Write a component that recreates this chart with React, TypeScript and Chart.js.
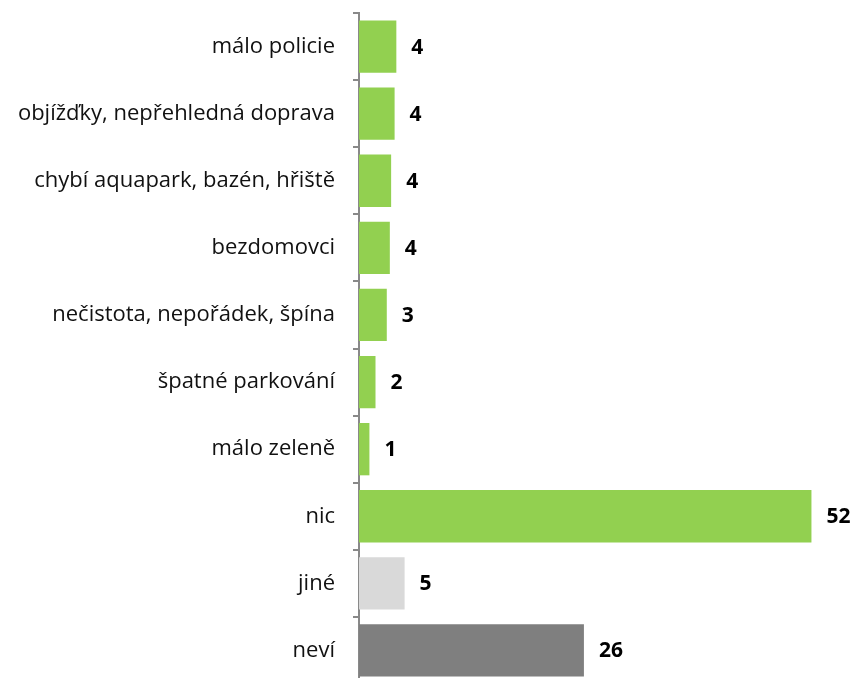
import React, { useEffect, useRef } from "react";
import { Chart, registerables } from "chart.js";

Chart.register(...registerables);

const categories = [
  "málo policie",
  "objížďky, nepřehledná doprava",
  "chybí aquapark, bazén, hřiště",
  "bezdomovci",
  "nečistota, nepořádek, špína",
  "špatné parkování",
  "málo zeleně",
  "nic",
  "jiné",
  "neví",
];
const values = [4.3, 4.1, 3.7, 3.55, 3.2, 1.9, 1.2, 52.1, 5.25, 25.9];
const barColors = [
  "#92d050", "#92d050", "#92d050", "#92d050", "#92d050",
  "#92d050", "#92d050", "#92d050", "#d9d9d9", "#7f7f7f",
];

const valueLabels = {
  id: "valueLabels",
  afterDatasetsDraw(chart: any) {
    const ctx = chart.ctx;
    const meta = chart.getDatasetMeta(0);
    ctx.save();
    ctx.font = "bold 21px 'Open Sans'";
    ctx.fillStyle = "#000000";
    ctx.textAlign = "left";
    ctx.textBaseline = "middle";
    meta.data.forEach((bar: any, i: number) => {
      const v = chart.data.datasets[0].data[i];
      ctx.fillText(String(Math.round(v)), bar.x + 15, bar.y + 1);
    });
    ctx.restore();
  },
};

export default function App() {
  const ref = useRef<HTMLCanvasElement>(null);
  useEffect(() => {
    const chart = new Chart(ref.current!, {
      type: "bar",
      data: {
        labels: categories,
        datasets: [
          {
            data: values,
            backgroundColor: barColors,
            barPercentage: 0.78,
            categoryPercentage: 1,
          },
        ],
      },
      options: {
        indexAxis: "y",
        animation: false,
        responsive: false,
        layout: { padding: { top: 13, bottom: 0, right: 1, left: 0 } },
        plugins: { legend: { display: false }, tooltip: { enabled: false } },
        scales: {
          x: { display: false, min: 0, max: 57 },
          y: {
            afterFit: (s: any) => {
              s.width = 359;
              s.paddingTop = 0;
              s.paddingBottom = 0;
            },
            border: { color: "#898989", width: 2 },
            grid: {
              drawOnChartArea: false,
              color: "#898989",
              lineWidth: 2,
              tickLength: 6,
              offset: true,
            },
            ticks: {
              color: "#111111",
              font: { family: "'Open Sans'", size: 22 },
              padding: 18,
            },
          },
        },
      },
      plugins: [valueLabels],
    });
    return () => chart.destroy();
  }, []);
  return (
    <div style={{ position: "fixed", left: 0, top: 0, width: 855, height: 678, overflow: "hidden", background: "#fff" }}>
      <canvas ref={ref} width={855} height={684} style={{ display: "block" }} />
    </div>
  );
}
